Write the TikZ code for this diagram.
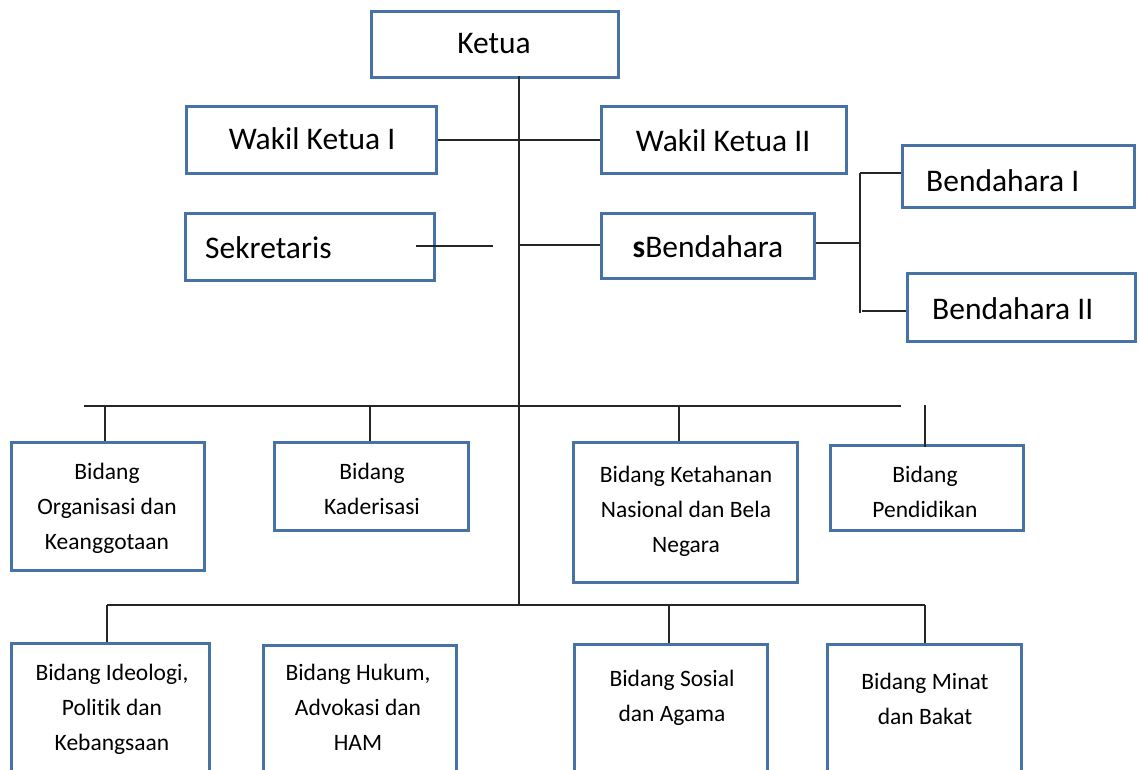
\documentclass[tikz,border=0pt]{standalone}
\usepackage{fontspec}
\setmainfont{Carlito}[Ligatures=NoCommon]
\definecolor{boxblue}{HTML}{4672A6}
\definecolor{linegray}{HTML}{262626}
\begin{document}
\begin{tikzpicture}[x=1pt,y=-1pt,
  box/.style={draw=boxblue, line width=2.8pt, rectangle, inner sep=0pt, anchor=north west},
  big/.style={font=\fontsize{31.5}{38}\selectfont, inner sep=0pt, anchor=base},
  bigleft/.style={big, anchor=base west},
  small/.style={font=\fontsize{23.5}{35}\selectfont, inner sep=0pt, anchor=base},
  conn/.style={draw=linegray, line width=1.3pt}]
\useasboundingbox (0,0) rectangle (1139,769);
\clip (0,0) rectangle (1139,769);

% boxes
\node[box, minimum width=247pt, minimum height=66pt] (ketua) at (370,10) {};
\node[box, minimum width=250pt, minimum height=67pt] (wk1) at (185,105) {};
\node[box, minimum width=245pt, minimum height=67pt] (wk2) at (600,105) {};
\node[box, minimum width=249pt, minimum height=67pt] (sek) at (184,212) {};
\node[box, minimum width=213pt, minimum height=65pt] (sb) at (600,212) {};
\node[box, minimum width=232pt, minimum height=62pt] (b1) at (901,144) {};
\node[box, minimum width=228pt, minimum height=68pt] (b2) at (906,272) {};
\node[box, minimum width=193pt, minimum height=128pt] (org) at (10,441) {};
\node[box, minimum width=194pt, minimum height=88pt] (kad) at (273,441) {};
\node[box, minimum width=224pt, minimum height=140pt] (ket) at (572,441) {};
\node[box, minimum width=193pt, minimum height=85pt] (pen) at (829,444) {};
\node[box, minimum width=198pt, minimum height=160pt] (ide) at (10,642) {};
\node[box, minimum width=193pt, minimum height=160pt] (huk) at (262,644) {};
\node[box, minimum width=193pt, minimum height=160pt] (sos) at (573,643) {};
\node[box, minimum width=194pt, minimum height=160pt] (min) at (826,643) {};

% texts
\node[big] (ketua-t) at (494,53) {Ketua};
\node[big] (wk1-t) at (312,149) {Wakil Ketua I};
\node[big] (wk2-t) at (723,151) {Wakil Ketua II};
\node[bigleft] (sek-t) at (205,258) {Sekretaris};
\node[big] (sb-t) at (708,257) {\textbf{s}Bendahara};
\node[bigleft] (b1-t) at (926,191) {Bendahara I};
\node[bigleft] (b2-t) at (932,319) {Bendahara II};
\node[small] (org-t) at (107,479) {\begin{tabular}[t]{@{}c@{}}Bidang\\Organisasi dan\\Keanggotaan\end{tabular}};
\node[small] (kad-t) at (372,479) {\begin{tabular}[t]{@{}c@{}}Bidang\\Kaderisasi\end{tabular}};
\node[small] (ket-t) at (686,482) {\begin{tabular}[t]{@{}c@{}}Bidang Ketahanan\\Nasional dan Bela\\Negara\end{tabular}};
\node[small] (pen-t) at (925,482) {\begin{tabular}[t]{@{}c@{}}Bidang\\Pendidikan\end{tabular}};
\node[small] (ide-t) at (112,680) {\begin{tabular}[t]{@{}c@{}}Bidang Ideologi,\\Politik dan\\Kebangsaan\end{tabular}};
\node[small] (huk-t) at (358,680) {\begin{tabular}[t]{@{}c@{}}Bidang Hukum,\\Advokasi dan\\HAM\end{tabular}};
\node[small] (sos-t) at (672,686) {\begin{tabular}[t]{@{}c@{}}Bidang Sosial\\dan Agama\end{tabular}};
\node[small] (min-t) at (925,689) {\begin{tabular}[t]{@{}c@{}}Bidang Minat\\dan Bakat\end{tabular}};

% connectors
\coordinate (tTop) at (519,76);
\coordinate (tBot) at (519,605);
\draw[conn] (tTop) -- (tBot);
\draw[conn] (wk1.east) -- (wk2.west);
\coordinate (sekA) at (416,246);
\coordinate (sekB) at (493,246);
\draw[conn] (sekA) -- (sekB);
\coordinate (jS) at (519,245);
\draw[conn] (jS) -- (jS -| sb.west);
\coordinate (bA) at (816,243);
\coordinate (bV) at (860,243);
\draw[conn] (bA) -- (bV);
\coordinate (bT) at (860,173);
\coordinate (bB) at (860,313);
\draw[conn] (bT) -- (bB);
\draw[conn] (bT) -- (bT -| b1.west);
\coordinate (bB2) at (862,311);
\draw[conn] (bB2) -- (bB2 -| b2.west);

% middle bus
\coordinate (m1) at (84,406);
\coordinate (m2) at (901,406);
\draw[conn] (m1) -- (m2);
\coordinate (d1) at (105,406);
\coordinate (d2) at (370,406);
\coordinate (d3) at (679,406);
\draw[conn] (d1) -- (d1 |- org.north);
\draw[conn] (d2) -- (d2 |- kad.north);
\draw[conn] (d3) -- (d3 |- ket.north);
\coordinate (d4) at (925,405);
\coordinate (d4b) at (925,447);
\draw[conn] (d4) -- (d4b);

% lower bus
\coordinate (l1) at (107,605);
\coordinate (l2) at (925,605);
\draw[conn] (l1) -- (l2);
\coordinate (l3) at (669,605);
\draw[conn] (l1) -- (l1 |- ide.north);
\draw[conn] (l3) -- (l3 |- sos.north);
\draw[conn] (l2) -- (l2 |- min.north);
\end{tikzpicture}
\end{document}
